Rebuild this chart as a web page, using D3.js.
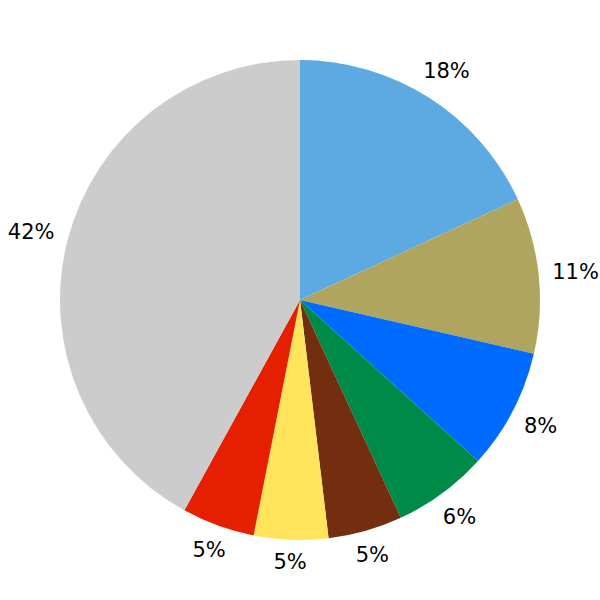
<!DOCTYPE html>
<html>
<head>
<meta charset="utf-8">
<script src="https://cdn.jsdelivr.net/npm/d3@7"></script>
<style>
  body { margin: 0; background: #fff; }
  text { font-family: "DejaVu Sans", sans-serif; }
</style>
</head>
<body>
<script>
// slice values (percent), clockwise from 12 o'clock
const shares = [18.1, 10.5, 8.1, 6.4, 5.0, 5.0, 4.9, 42.0];
const labels = ["18%", "11%", "8%", "6%", "5%", "5%", "5%", "42%"];
const colors = ["#5DAAE3", "#B0A55F", "#006BFF", "#008A47", "#722E0E", "#FFE45C", "#E61F00", "#CCCCCC"];

const width = 600, height = 600;
const cx = 300, cy = 300, radius = 240;
const labelGap = 13;
const fontSize = 21;

const svg = d3.select("body").append("svg")
    .attr("width", width)
    .attr("height", height);

const g = svg.append("g").attr("transform", `translate(${cx},${cy})`);

const pie = d3.pie().sort(null).value(d => d);
const arcs = pie(shares);

const arc = d3.arc().innerRadius(0).outerRadius(radius);

g.selectAll("path.slice")
    .data(arcs)
    .enter()
    .append("path")
    .attr("class", "slice")
    .attr("d", arc)
    .attr("fill", (d, i) => colors[i]);

// labels sit just outside the rim, pushed out by half their box
const txt = g.selectAll("text.lbl")
    .data(arcs)
    .enter()
    .append("text")
    .attr("class", "lbl")
    .attr("font-size", fontSize)
    .attr("fill", "#000")
    .attr("text-anchor", "middle")
    .attr("dy", "0.36em")
    .text((d, i) => labels[i]);

txt.each(function(d) {
    const a = (d.startAngle + d.endAngle) / 2;
    const w = this.getComputedTextLength();
    const h = fontSize * 0.73;
    const s = Math.sin(a), c = Math.cos(a);
    const r = radius + labelGap + (w / 2) * Math.abs(s) + (h / 2) * Math.abs(c);
    d3.select(this).attr("x", r * s).attr("y", -r * c);
});
</script>
</body>
</html>
